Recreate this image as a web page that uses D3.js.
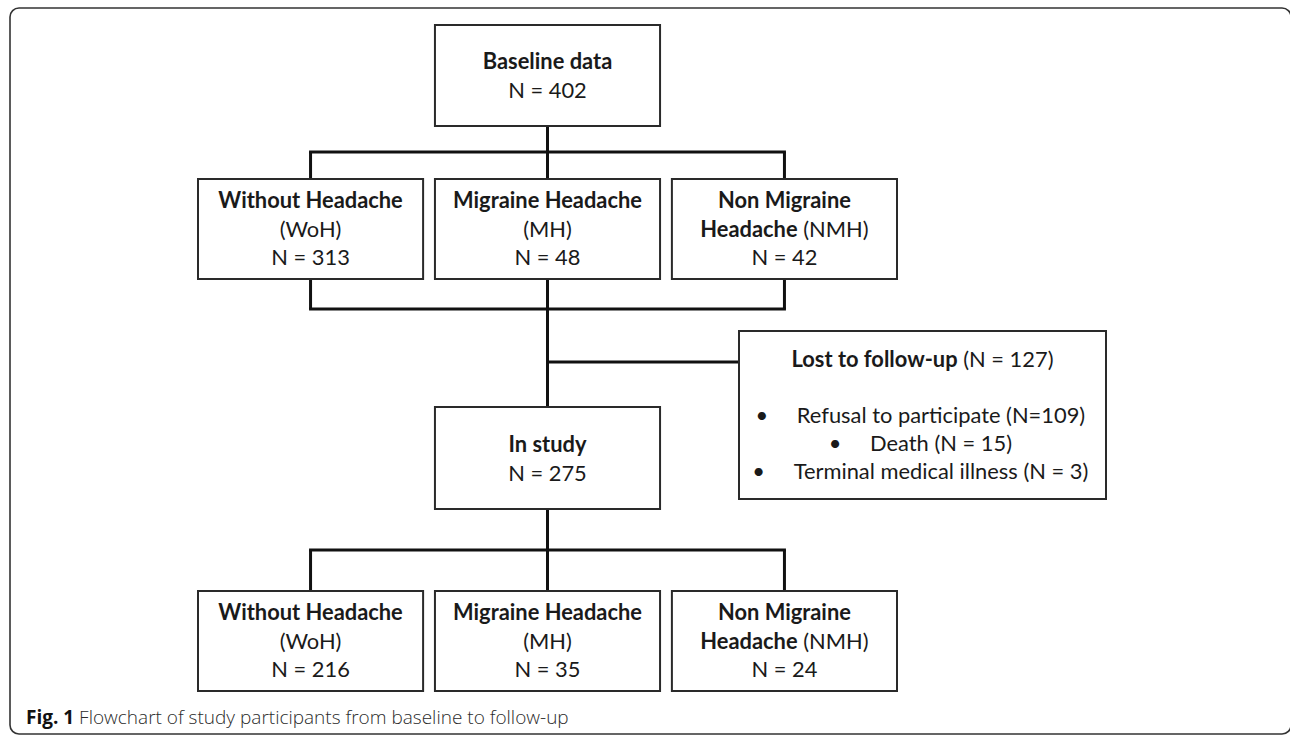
<!DOCTYPE html>
<html>
<head>
<meta charset="utf-8">
<script src="https://cdn.jsdelivr.net/npm/d3@7"></script>
<style>
  html, body { margin: 0; padding: 0; background: #fff; }
  svg { display: block; }
</style>
</head>
<body>
<div id="chart"></div>
<script>
// ---------------- data ----------------
const groupNames = ["Without Headache", "Migraine Headache", "Non Migraine Headache"];
const groupAbbr = ["WoH", "MH", "NMH"];
const baselineLabel = "Baseline data";
const baselineN = 402;
const baselineCounts = [313, 48, 42];
const inStudyLabel = "In study";
const inStudyN = 275;
const followupCounts = [216, 35, 24];
const lostLabel = "Lost to follow-up";
const lostN = 127;
const lostReasons = ["Refusal to participate", "Death", "Terminal medical illness"];
const lostCounts = [109, 15, 3];
const lostEq = ["=", " = ", " = "];
const captionBold = "Fig. 1";
const captionText = " Flowchart of study participants from baseline to follow-up";

// ---------------- layout ----------------
const W = 1290, H = 736;
const svg = d3.select("#chart").append("svg").attr("width", W).attr("height", H);

const FONT = "Lato, 'Open Sans', sans-serif";
function measure(txt, weight, size, family) {
  const t = svg.append("text").attr("font-family", family).attr("font-weight", weight)
    .attr("font-size", size).text(txt);
  const l = t.node().getComputedTextLength();
  t.remove();
  return l;
}
const FS = 20 * 189 / measure("Migraine Headache", 700, 20, FONT);

const x = d3.scaleBand().domain(groupAbbr).range([198, 897]).paddingInner(0.05);
const cx = d => x(d) + x.bandwidth() / 2;
const midX = cx("MH");

const y = d3.scaleOrdinal()
  .domain(["baseline", "groups1", "inStudy", "groups2"])
  .range([25, 179, 407, 591]);
const boxH = { baseline: 101, groups1: 100, inStudy: 102, groups2: 100 };
const busY = { top1: 152, bottom1: 309, top2: 550, lost: 362 };
const lostBox = { x: 739, y: 331, w: 367, h: 168 };

// ---------------- outer frame ----------------
svg.append("rect").attr("x", 10).attr("y", 8).attr("width", 1281).attr("height", 726)
  .attr("rx", 9).attr("fill", "none").attr("stroke", "#333").attr("stroke-width", 1.6);

// ---------------- connectors ----------------
const lineG = svg.append("g").attr("stroke", "#111").attr("stroke-width", 3).attr("fill", "none");
const segs = [];
segs.push([midX, y("baseline") + boxH.baseline, midX, busY.top1]);
segs.push([cx("WoH") - 1.5, busY.top1, cx("NMH") + 1.5, busY.top1]);
groupAbbr.forEach(g => segs.push([cx(g), busY.top1, cx(g), y("groups1")]));
groupAbbr.forEach(g => segs.push([cx(g), y("groups1") + boxH.groups1, cx(g), busY.bottom1]));
segs.push([cx("WoH") - 1.5, busY.bottom1, cx("NMH") + 1.5, busY.bottom1]);
segs.push([midX, busY.bottom1, midX, y("inStudy")]);
segs.push([midX, busY.lost, lostBox.x, busY.lost]);
segs.push([midX, y("inStudy") + boxH.inStudy, midX, busY.top2]);
segs.push([cx("WoH") - 1.5, busY.top2, cx("NMH") + 1.5, busY.top2]);
groupAbbr.forEach(g => segs.push([cx(g), busY.top2, cx(g), y("groups2")]));
lineG.selectAll("line").data(segs).join("line")
  .attr("x1", d => d[0]).attr("y1", d => d[1]).attr("x2", d => d[2]).attr("y2", d => d[3]);

// ---------------- boxes ----------------
function groupLines(i, n) {
  if (i === 2) {
    return [
      [{ t: "Non Migraine", b: true }],
      [{ t: "Headache", b: true }, { t: " (" + groupAbbr[i] + ")", b: false }],
      [{ t: "N = " + n, b: false }]
    ];
  }
  return [
    [{ t: groupNames[i], b: true }],
    [{ t: "(" + groupAbbr[i] + ")", b: false }],
    [{ t: "N = " + n, b: false }]
  ];
}
const boxes = [];
boxes.push({ x: x("MH"), y: y("baseline"), w: x.bandwidth(), h: boxH.baseline,
  lines: [[{ t: baselineLabel, b: true }], [{ t: "N = " + baselineN, b: false }]], first: 44 });
baselineCounts.forEach((n, i) => boxes.push({ x: x(groupAbbr[i]), y: y("groups1"), w: x.bandwidth(),
  h: boxH.groups1, lines: groupLines(i, n), first: 29 }));
boxes.push({ x: x("MH"), y: y("inStudy"), w: x.bandwidth(), h: boxH.inStudy,
  lines: [[{ t: inStudyLabel, b: true }], [{ t: "N = " + inStudyN, b: false }]], first: 45 });
followupCounts.forEach((n, i) => boxes.push({ x: x(groupAbbr[i]), y: y("groups2"), w: x.bandwidth(),
  h: boxH.groups2, lines: groupLines(i, n), first: 29 }));

const LH = 28.5;
const bg = svg.selectAll("g.box").data(boxes).join("g").attr("class", "box");
bg.append("rect").attr("x", d => d.x).attr("y", d => d.y).attr("width", d => d.w).attr("height", d => d.h)
  .attr("fill", "#fff").attr("stroke", "#2a2a2a").attr("stroke-width", 2);
bg.each(function (d) {
  const g = d3.select(this);
  d.lines.forEach((ln, li) => {
    const t = g.append("text").attr("x", d.x + d.w / 2).attr("y", d.y + d.first + li * LH)
      .attr("text-anchor", "middle").attr("font-family", FONT).attr("font-size", FS).attr("fill", "#1a1a1a");
    t.selectAll("tspan").data(ln).join("tspan").attr("font-weight", s => s.b ? 700 : 400).text(s => s.t);
  });
});

// ---------------- lost box ----------------
const lg = svg.append("g");
lg.append("rect").attr("x", lostBox.x).attr("y", lostBox.y).attr("width", lostBox.w).attr("height", lostBox.h)
  .attr("fill", "#fff").attr("stroke", "#2a2a2a").attr("stroke-width", 2);
const lt = lg.append("text").attr("x", lostBox.x + lostBox.w / 2).attr("y", 367).attr("text-anchor", "middle")
  .attr("font-family", FONT).attr("font-size", FS).attr("fill", "#1a1a1a");
lt.append("tspan").attr("font-weight", 700).text(lostLabel);
lt.append("tspan").attr("font-weight", 400).text(" (N = " + lostN + ")");

const bulletCX = 941;
lostReasons.forEach((r, i) => {
  const by = 423 + i * 28;
  const t = lg.append("text").attr("x", bulletCX).attr("y", by).attr("text-anchor", "middle")
    .attr("font-family", FONT).attr("font-size", FS).attr("fill", "#1a1a1a")
    .text(r + " (N" + lostEq[i] + lostCounts[i] + ")");
  const len = t.node().getComputedTextLength();
  lg.append("text").attr("x", bulletCX - len / 2 - 35).attr("y", by).attr("text-anchor", "middle")
    .attr("font-family", FONT).attr("font-size", FS).attr("fill", "#1a1a1a").text("\u2022");
});

// ---------------- caption ----------------
const cap = svg.append("text").attr("x", 26).attr("y", 724)
  .attr("font-family", "'Open Sans', sans-serif").attr("font-size", 19).attr("fill", "#2b2b2b");
cap.append("tspan").attr("font-weight", 700).attr("fill", "#111").text(captionBold);
cap.append("tspan").attr("font-weight", 300).text(captionText);
</script>
</body>
</html>
